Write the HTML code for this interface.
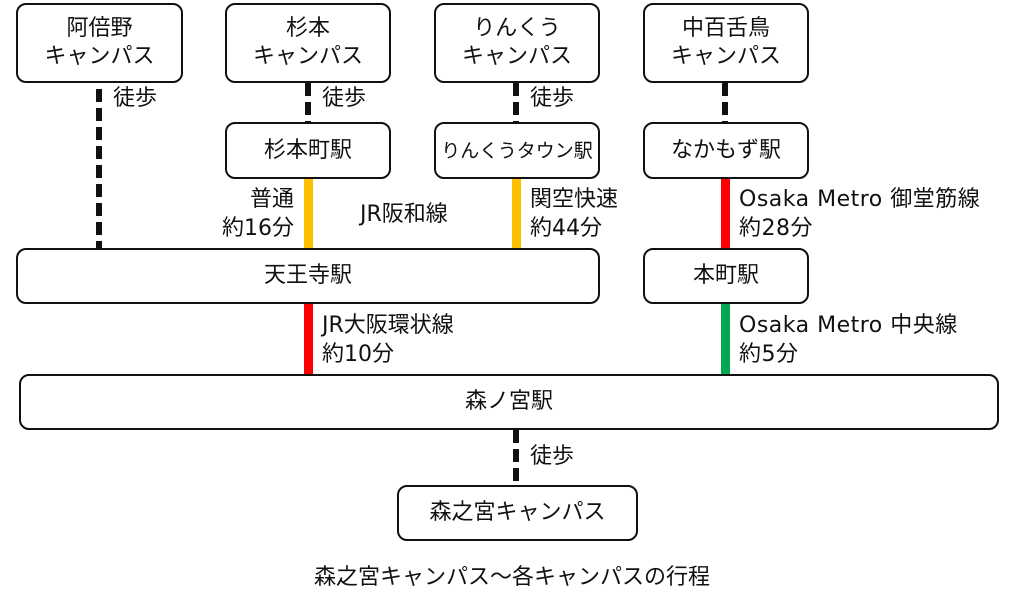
<!DOCTYPE html>
<html><head><meta charset="utf-8"><style>
body{margin:0;width:1024px;height:605px;background:#fff;position:relative;overflow:hidden;font-family:"DejaVu Sans","Noto Sans CJK JP",sans-serif;color:#111;}
.b{position:absolute;box-sizing:border-box;border:2.5px solid #111;border-radius:10px;background:#fff;display:flex;align-items:center;justify-content:center;text-align:center;font-size:22px;line-height:28px;}
.t{position:absolute;font-size:22px;line-height:29px;white-space:nowrap;}
.d{position:absolute;width:6px;background:repeating-linear-gradient(#111 0 13px,transparent 13px 19px);}
.s{position:absolute;width:9px;}
</style></head><body>
<div class="b" style="left:16px;top:3px;width:167px;height:80px">阿倍野<br>キャンパス</div>
<div class="b" style="left:225px;top:3px;width:166px;height:80px">杉本<br>キャンパス</div>
<div class="b" style="left:434px;top:3px;width:166px;height:80px">りんくう<br>キャンパス</div>
<div class="b" style="left:643px;top:3px;width:166px;height:80px">中百舌鳥<br>キャンパス</div>

<div class="d" style="left:96px;top:89px;height:159px"></div>
<div class="d" style="left:305px;top:83px;height:39px"></div>
<div class="d" style="left:513px;top:83px;height:39px"></div>
<div class="d" style="left:722px;top:83px;height:39px"></div>
<div class="t" style="left:113px;top:84px">徒歩</div>
<div class="t" style="left:322px;top:84px">徒歩</div>
<div class="t" style="left:530px;top:84px">徒歩</div>

<div class="b" style="left:225px;top:122px;width:166px;height:57px">杉本町駅</div>
<div class="b" style="left:434px;top:122px;width:166px;height:57px;font-size:19px">りんくうタウン駅</div>
<div class="b" style="left:643px;top:122px;width:166px;height:57px">なかもず駅</div>

<div class="s" style="left:304px;top:179px;height:69px;background:#fcbf00"></div>
<div class="s" style="left:512px;top:179px;height:69px;background:#fcbf00"></div>
<div class="s" style="left:721px;top:179px;height:69px;background:#f00"></div>
<div class="t" style="left:194px;top:185px;text-align:right;width:100px">普通<br>約16分</div>
<div class="t" style="left:360px;top:200px">JR阪和線</div>
<div class="t" style="left:530px;top:185px">関空快速<br>約44分</div>
<div class="t" style="left:739px;top:185px;letter-spacing:0.5px">Osaka Metro 御堂筋線<br>約28分</div>

<div class="b" style="left:16px;top:248px;width:584px;height:56px">天王寺駅</div>
<div class="b" style="left:643px;top:248px;width:166px;height:56px">本町駅</div>

<div class="s" style="left:304px;top:304px;height:70px;background:#f00"></div>
<div class="s" style="left:721px;top:304px;height:70px;background:#00a84f"></div>
<div class="t" style="left:322px;top:311px">JR大阪環状線<br>約10分</div>
<div class="t" style="left:739px;top:311px;letter-spacing:0.5px">Osaka Metro 中央線<br>約5分</div>

<div class="b" style="left:19px;top:374px;width:980px;height:56px">森ノ宮駅</div>
<div class="d" style="left:513px;top:430px;height:55px"></div>
<div class="t" style="left:530px;top:442px">徒歩</div>
<div class="b" style="left:397px;top:485px;width:241px;height:56px">森之宮キャンパス</div>
<div class="t" style="left:0;width:1024px;text-align:center;top:563px">森之宮キャンパス～各キャンパスの行程</div>
</body></html>
